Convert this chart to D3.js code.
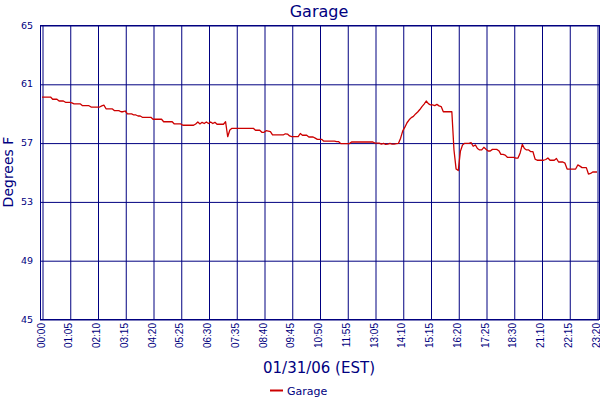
<!DOCTYPE html>
<html>
<head>
<meta charset="utf-8">
<script src="https://cdn.jsdelivr.net/npm/d3@7"></script>
<style>
  html, body { margin: 0; padding: 0; background: #fff; }
  svg { display: block; font-family: "DejaVu Sans", Verdana, sans-serif; }
</style>
</head>
<body>
<svg id="chart" width="600" height="400"></svg>
<script>
// ---- data ----
const tickLabels = ["00:00","01:05","02:10","03:15","04:20","05:25","06:30","07:35","08:40","09:45",
  "10:50","11:55","13:05","14:10","15:15","16:20","17:25","18:30","21:10","22:15","23:20"];
const yTicks = [45, 49, 53, 57, 61, 65];
const seriesName = "Garage";
const tempF = [
  60.1,60.1,60.1,60.1,60.1,59.95,59.95,59.95,59.83,59.83,59.83,59.74,59.74,
  59.74,59.7,59.63,59.63,59.63,59.63,59.51,59.51,59.51,59.51,59.42,59.42,59.42,
  59.42,59.42,59.5,59.55,59.3,59.29,59.29,59.29,59.17,59.17,59.17,59.1,59.1,
  59.15,58.95,58.95,58.95,58.88,58.88,58.81,58.81,58.72,58.72,58.72,58.72,58.72,
  58.59,58.59,58.59,58.59,58.59,58.42,58.42,58.42,58.42,58.42,58.27,58.27,58.27,
  58.27,58.18,58.18,58.18,58.18,58.18,58.18,58.27,58.4,58.27,58.38,58.3,58.4,
  58.3,58.4,58.3,58.38,58.25,58.25,58.25,58.25,58.42,57.4,57.86,57.97,57.97,
  57.97,57.97,57.97,57.97,57.97,57.97,57.97,57.97,57.97,57.84,57.84,57.84,57.7,
  57.7,57.81,57.78,57.75,57.52,57.52,57.52,57.52,57.52,57.52,57.6,57.58,57.45,
  57.4,57.4,57.4,57.4,57.62,57.5,57.5,57.5,57.38,57.38,57.38,57.3,57.22,
  57.22,57.22,57.1,57.1,57.1,57.1,57.1,57.1,57.06,57.06,56.93,56.93,56.93,
  56.93,56.93,57.04,57.04,57.04,57.04,57.04,57.04,57.04,57.04,57.04,57.04,57.04,
  56.97,56.97,56.97,56.9,56.95,56.88,56.9,56.95,56.9,56.9,56.93,56.95,57.3,
  57.8,58.05,58.35,58.55,58.7,58.78,58.95,59.08,59.25,59.45,59.62,59.83,59.65,
  59.56,59.56,59.52,59.6,59.5,59.45,59.1,59.1,59.1,59.1,59.1,56.5,55.2,
  55.1,56.4,56.84,56.95,56.95,56.95,57.0,56.75,56.84,56.6,56.5,56.5,56.68,
  56.55,56.43,56.43,56.54,56.54,56.54,56.45,56.2,56.2,56.15,56.0,56.0,56.0,
  56.0,55.95,55.95,56.3,56.88,56.6,56.5,56.5,56.38,56.38,55.88,55.8,55.8,
  55.8,55.8,55.85,55.95,55.8,55.8,55.8,55.92,55.68,55.68,55.68,55.6,55.2,
  55.2,55.2,55.2,55.2,55.48,55.4,55.3,55.3,55.3,54.86,54.9,55.0,55.0,
  55.0
];

// ---- layout ----
const navy = "#000080";
const red = "#cc0000";
const svg = d3.select("#chart");
const plot = { left: 40, right: 599, top: 25, bottom: 319 };
const perTick = (tempF.length - 1) / (tickLabels.length - 1);

const x = d3.scaleLinear().domain([0, tempF.length - 1]).range([42, 597]);
const y = d3.scaleLinear().domain([45, 65]).range([plot.bottom, plot.top]);

// plot border
svg.append("rect")
  .attr("x", plot.left + 0.5).attr("y", plot.top + 0.5)
  .attr("width", plot.right - plot.left).attr("height", plot.bottom - plot.top)
  .attr("fill", "none").attr("stroke", navy).attr("stroke-width", 1);

// horizontal gridlines + y labels
const yAxis = d3.axisLeft(y).tickValues(yTicks).tickFormat(d3.format("d"))
  .tickSize(-(plot.right - plot.left)).tickPadding(8);
const gy = svg.append("g").attr("transform", `translate(${plot.left},0)`).call(yAxis);
gy.select(".domain").remove();
gy.selectAll(".tick line").attr("stroke", navy).attr("transform", "translate(0,0.5)");
gy.selectAll(".tick text").attr("fill", navy).style("font-size", "9.5px")
  .style("font-family", "'DejaVu Sans', sans-serif").attr("x", -7);

// vertical gridlines + x labels
const xTickVals = tickLabels.map((_, i) => i * perTick);
const xAxis = d3.axisBottom(x).tickValues(xTickVals)
  .tickFormat((d, i) => tickLabels[i])
  .tickSize(-(plot.bottom - plot.top)).tickPadding(4);
const gx = svg.append("g").attr("transform", `translate(0,${plot.bottom})`).call(xAxis);
gx.select(".domain").remove();
gx.selectAll(".tick line").attr("stroke", navy).attr("transform", "translate(0.5,0)");
gx.selectAll(".tick text").attr("fill", navy).style("font-size", "10px")
  .attr("text-anchor", "end").attr("transform", "rotate(-90)")
  .attr("x", -4).attr("y", 0).attr("dy", "0.2em");

// series line
const line = d3.line().x((d, i) => x(i)).y(d => y(d));
svg.append("path").datum(tempF)
  .attr("d", line).attr("fill", "none")
  .attr("stroke", red).attr("stroke-width", 1.3).attr("stroke-linejoin", "round");

// title
svg.append("text").attr("x", 319).attr("y", 17).attr("text-anchor", "middle")
  .attr("fill", navy).style("font-size", "16px").text(seriesName);

// axis titles
svg.append("text").attr("x", 319).attr("y", 373).attr("text-anchor", "middle")
  .attr("fill", navy).style("font-size", "15px").text("01/31/06 (EST)");
svg.append("text").attr("transform", "translate(13,172) rotate(-90)")
  .attr("text-anchor", "middle").attr("fill", navy).style("font-size", "14px").text("Degrees F");

// legend
svg.append("line").attr("x1", 270).attr("x2", 283).attr("y1", 390.5).attr("y2", 390.5)
  .attr("stroke", red).attr("stroke-width", 2);
svg.append("text").attr("x", 287).attr("y", 394.5).attr("fill", navy)
  .style("font-size", "11px").text(seriesName);
</script>
</body>
</html>
